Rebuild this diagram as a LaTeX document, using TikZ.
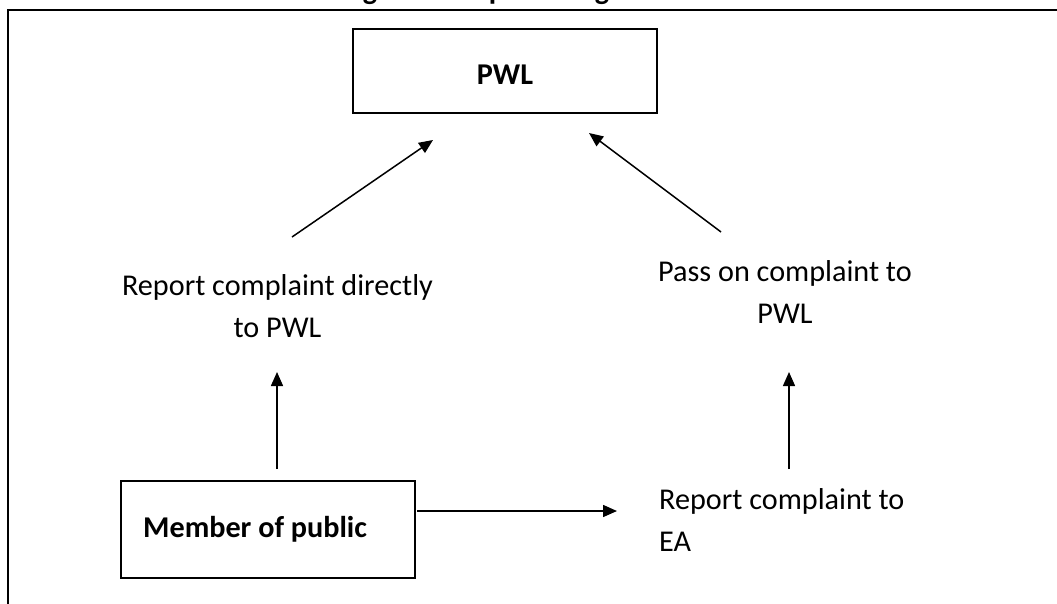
\documentclass[tikz,border=0pt]{standalone}
\usepackage{fontspec}
\setmainfont{Carlito}
\usetikzlibrary{arrows.meta}
\tikzset{
  frameline/.style={line width=1.6pt, line cap=rect},
  boxnode/.style={draw, line width=1.6pt, inner sep=0pt},
  lbl/.style={font=\fontsize{30.2}{42}\selectfont, inner sep=0pt},
  blbl/.style={font=\fontsize{30.2}{42}\selectfont\bfseries, inner sep=0pt},
  arr/.style={line width=1.5pt, -{Triangle[length=14pt,width=12pt]}},
}
\begin{document}
\begin{tikzpicture}[x=1pt,y=-1pt]
\useasboundingbox (0,0) rectangle (1057,603);
% cut-off title (only descenders visible)
\begin{scope}
\clip (0,0) rectangle (1057,8);
\node[blbl, anchor=base] (t1) at (370,-1) {g};
\node[blbl, anchor=base] (t2) at (497,-1) {p};
\node[blbl, anchor=base] (t3) at (602,-1) {g};
\end{scope}
% frame
\draw[frameline] (8,603) -- (8,10) -- (1057,10);
% boxes
\node[boxnode, minimum width=304pt, minimum height=84pt] (pwl) at (505,71) {};
\node[blbl, anchor=base] (pwltxt) at (505,84) {PWL};
\node[boxnode, minimum width=294pt, minimum height=97pt] (mop) at (268,529.5) {};
\node[blbl, anchor=base west] (moptxt) at (143,537) {Member of public};
% labels (base anchor = last line)
\node[lbl, align=center, anchor=base] (L) at (277.5,337) {Report complaint directly\\to PWL};
\node[lbl, align=center, anchor=base] (R) at (785,323) {Pass on complaint to\\PWL};
\node[lbl, align=left, anchor=base west] (EA) at (659,551) {Report complaint to\\EA};
% arrow ends
\coordinate (a1s) at (277,469); \coordinate (a1e) at (277,372);
\coordinate (a2s) at (789,469); \coordinate (a2e) at (789,372);
\coordinate (a3s) at (417,511); \coordinate (a3e) at (617,511);
\coordinate (a4s) at (292,237); \coordinate (a4e) at (433,140);
\coordinate (a5s) at (721,232); \coordinate (a5e) at (589,133);
\draw[arr] (a1s) -- (a1e);
\draw[arr] (a2s) -- (a2e);
\draw[arr] (a3s) -- (a3e);
\draw[arr] (a4s) -- (a4e);
\draw[arr] (a5s) -- (a5e);
\end{tikzpicture}
\end{document}
